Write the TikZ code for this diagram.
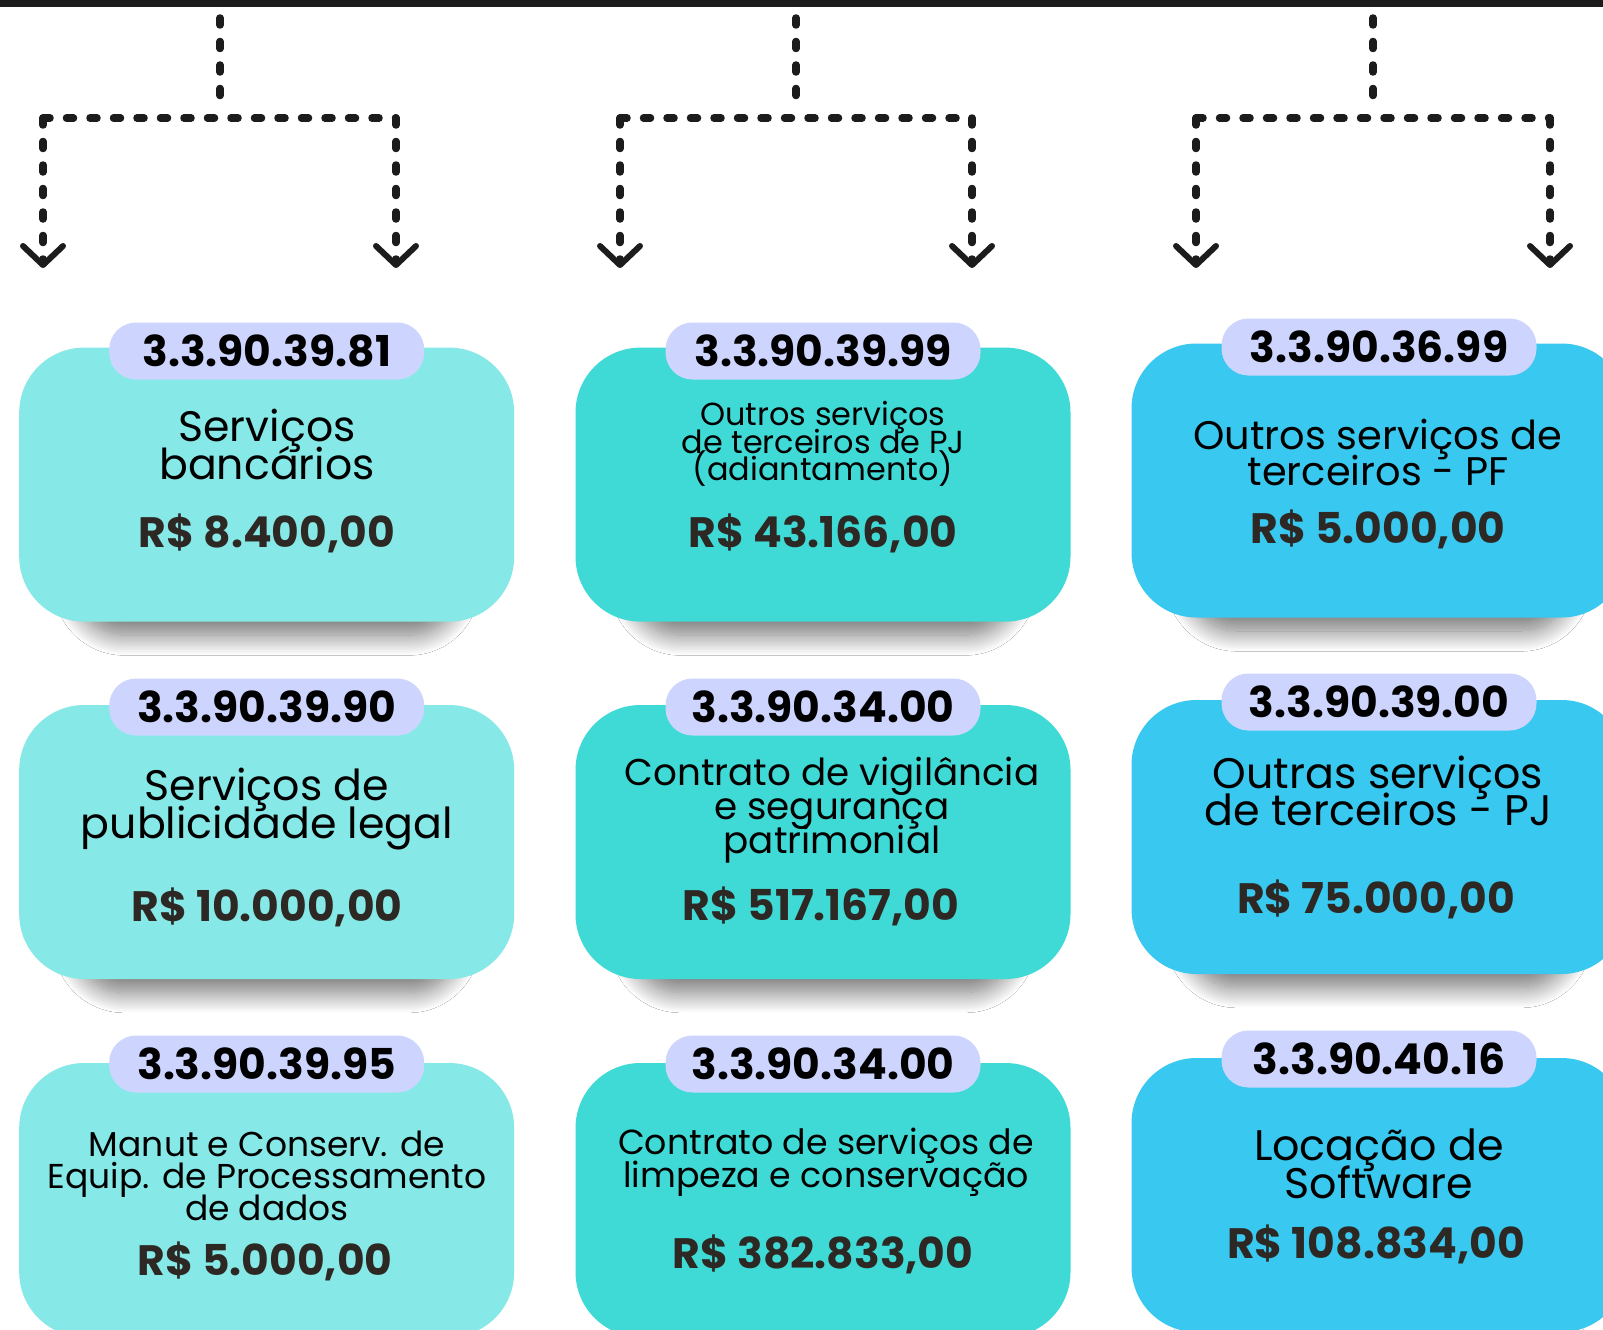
\documentclass[tikz,border=0pt]{standalone}
\usepackage{fontspec}
\setmainfont{Poppins}
\usetikzlibrary{arrows.meta,shadows.blur}

\definecolor{barcol}{HTML}{1C1C1C}
\definecolor{lightcol}{HTML}{87E9E7}
\definecolor{midcol}{HTML}{40DAD6}
\definecolor{bluecol}{HTML}{39C8EF}
\definecolor{badgecol}{HTML}{CDD5FF}
\definecolor{pricecol}{HTML}{2D2823}

\lineskiplimit=-100pt
\lineskip=0pt

\tikzset{
  dashline/.style={line width=7.5pt, line cap=round, dash pattern=on 7pt off 16.5pt, draw=barcol},
  chev/.style={-{Straight Barb[length=19pt,width=40pt,line width=6pt,round]}},
  card/.style={rectangle, rounded corners=65pt, minimum width=495pt, minimum height=274pt,
    inner sep=0pt, blur shadow={shadow xshift=0pt, shadow yshift=-56pt, shadow scale=0.78,
    shadow blur radius=26pt, shadow blur steps=26, shadow opacity=55}},
  badge/.style={fill=badgecol, rounded corners=27pt, minimum width=315pt, minimum height=57pt,
    inner sep=0pt, font=\fontsize{42.5}{42.5}\selectfont\bfseries},
  desc/.style={align=center, inner sep=0pt},
  price/.style={text=pricecol, inner sep=0pt, font=\fontsize{42.5}{42.5}\selectfont\bfseries},
}

\begin{document}
\begin{tikzpicture}[x=1pt,y=-1pt]
  \useasboundingbox (0,0) rectangle (1603,1330);
  \fill[white] (0,0) rectangle (1603,1330);
  \clip (0,0) rectangle (1603,1330);
  \fill[barcol] (0,0) rectangle (1603,7);

  % branches
  \foreach \n/\cx/\lx/\rx in {1/220/43/396, 2/796/620/972, 3/1373/1196/1550}{
    \coordinate (top\n) at (\cx,18);
    \coordinate (mid\n) at (\cx,102);
    \coordinate (lc\n) at (\lx,118);
    \coordinate (rc\n) at (\rx,118);
    \coordinate (le\n) at (\lx,268);
    \coordinate (re\n) at (\rx,268);
    \draw[dashline] (top\n) -- (mid\n);
    \draw[dashline] (lc\n) -- (rc\n);
    \draw[dashline,chev] (lc\n) -- (le\n);
    \draw[dashline,chev] (rc\n) -- (re\n);
  }

  % cards
  \node[card,fill=lightcol] (bank) at (266.7,484.6) {};
  \node[card,fill=midcol] (pjadv) at (823,484.6) {};
  \node[card,fill=bluecol] (pf) at (1379,480.5) {};
  \node[card,fill=lightcol] (publ) at (266.7,842) {};
  \node[card,fill=midcol] (vigil) at (823,842) {};
  \node[card,fill=bluecol] (pj) at (1379,837) {};
  \node[card,fill=lightcol] (equip) at (266.7,1200) {};
  \node[card,fill=midcol] (limp) at (823,1200) {};
  \node[card,fill=bluecol] (soft) at (1379,1195) {};

  % codes
  \node[badge] (bankcode) at (266.7,351) {3.3.90.39.81};
  \node[badge] (pjadvcode) at (823,351) {3.3.90.39.99};
  \node[badge] (pfcode) at (1379,347) {3.3.90.36.99};
  \node[badge] (publcode) at (266.7,707) {3.3.90.39.90};
  \node[badge] (vigilcode) at (823,707) {3.3.90.34.00};
  \node[badge] (pjcode) at (1379,702) {3.3.90.39.00};
  \node[badge] (equipcode) at (266.7,1064) {3.3.90.39.95};
  \node[badge] (limpcode) at (823,1064) {3.3.90.34.00};
  \node[badge] (softcode) at (1379,1059) {3.3.90.40.16};

  % descriptions
  \node[desc,font=\fontsize{42.6}{38}\selectfont] (banktxt) at (267,444) {Serviços\\bancários};
  \node[desc,font=\fontsize{31.9}{27.6}\selectfont] (pjadvtxt) at (823,444) {Outros serviços\\de terceiros de PJ\\(adiantamento)};
  \node[desc,font=\fontsize{39.9}{36}\selectfont] (pftxt) at (1378,452) {Outros serviços de\\terceiros - PF};
  \node[desc,font=\fontsize{42.7}{38}\selectfont] (publtxt) at (267,809) {Serviços de\\publicidade legal};
  \node[desc,font=\fontsize{37.3}{34}\selectfont] (vigiltxt) at (832,810) {Contrato de vigilância\\e segurança\\patrimonial};
  \node[desc,font=\fontsize{42.8}{37}\selectfont] (pjtxt) at (1378,791) {Outras serviços\\de terceiros - PJ};
  \node[desc,font=\fontsize{34.5}{32}\selectfont] (equiptxt) at (267,1176) {Manut e Conserv. de\\Equip. de Processamento\\de dados};
  \node[desc,font=\fontsize{34.8}{33}\selectfont] (limptxt) at (826,1162) {Contrato de serviços de\\limpeza e conservação};
  \node[desc,font=\fontsize{42.8}{38}\selectfont] (softtxt) at (1379,1164) {Locação de\\Software};

  % values
  \node[price] (bankval) at (267,533) {R\$ 8.400,00};
  \node[price] (pjadvval) at (823,533) {R\$ 43.166,00};
  \node[price] (pfval) at (1378,529) {R\$ 5.000,00};
  \node[price] (publval) at (267,907) {R\$ 10.000,00};
  \node[price] (vigilval) at (821,906) {R\$ 517.167,00};
  \node[price] (pjval) at (1376,899) {R\$ 75.000,00};
  \node[price] (equipval) at (265,1261) {R\$ 5.000,00};
  \node[price] (limpval) at (823,1254) {R\$ 382.833,00};
  \node[price] (softval) at (1376,1244) {R\$ 108.834,00};
\end{tikzpicture}
\end{document}
